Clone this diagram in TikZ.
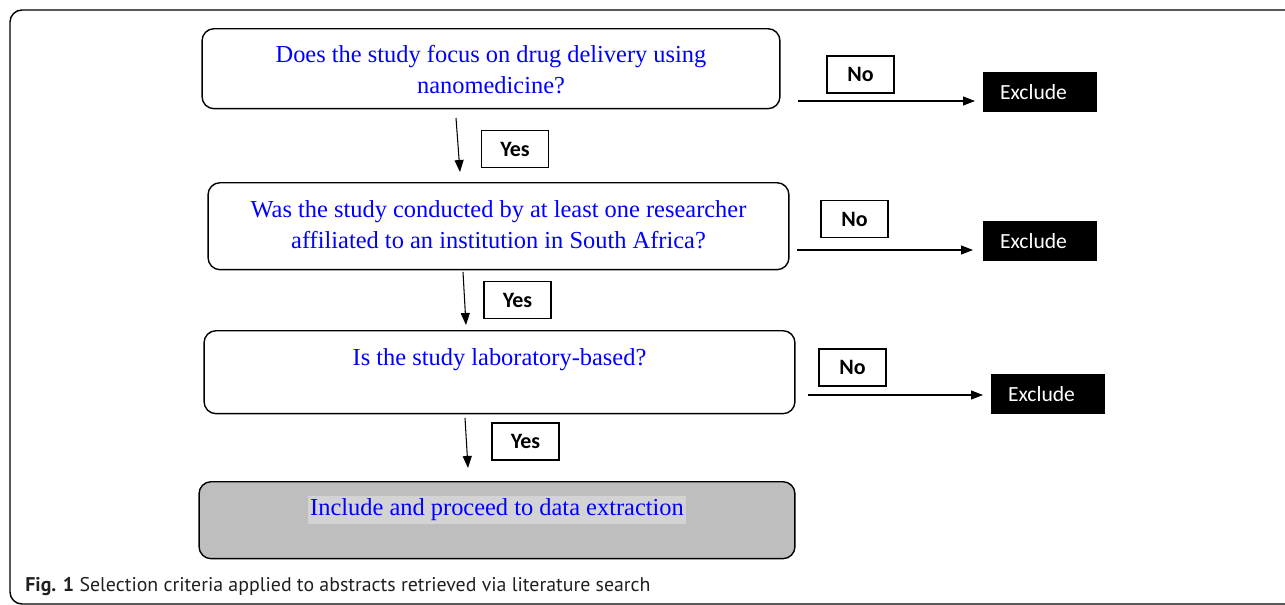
\documentclass[tikz,border=0pt]{standalone}
\usepackage{fontspec}
\setmainfont{Liberation Serif}
\newfontfamily\labelfont{Carlito}
\newfontfamily\captionfont{PT Sans}
\usepackage{xcolor}
\usetikzlibrary{arrows.meta, positioning}

\definecolor{qblue}{HTML}{0000FF}
\definecolor{inclgray}{HTML}{BEBEBE}
\definecolor{hlgray}{HTML}{D3D3D3}
\definecolor{capgray}{HTML}{231F20}

\begin{document}
\begin{tikzpicture}[
    x=0.02cm, y=-0.02cm,
    question/.style={rectangle, draw, rounded corners=0.24cm, line width=0.8pt, inner sep=0pt,
        align=center, text=qblue, font=\fontsize{13.9}{17.6}\selectfont},
    answer/.style={rectangle, draw, line width=0.6pt, inner sep=0pt, minimum width=1.34cm,
        minimum height=0.74cm, font=\labelfont\bfseries\fontsize{12.5}{14}\selectfont},
    excl/.style={rectangle, fill=black, text=white, inner xsep=0.34cm, inner ysep=0pt,
        text width=1.6cm, minimum height=0.8cm, align=left, font=\labelfont\fontsize{12.3}{14}\selectfont},
    arrow/.style={-{Triangle[length=2.4mm, width=1.8mm]}, line width=0.6pt}
]
\useasboundingbox (0,0) rectangle (1285,605);
% outer frame
\draw[line width=0.8pt, rounded corners=0.24cm] (10,10) rectangle (1320,604);

% questions
\node[question, minimum width=11.56cm, text height=1.30cm, text depth=0.30cm] (q1) at (491,28) [anchor=north]
    {Does the study focus on drug delivery using\\ nanomedicine?};
\node[question, minimum width=11.62cm, text height=1.32cm, text depth=0.42cm] (q2) at (498.5,182) [anchor=north]
    {Was the study conducted by at least one researcher\\ affiliated to an institution in South Africa?};
\node[question, minimum width=11.82cm, text height=0.70cm, text depth=0.96cm] (q3) at (499.5,330) [anchor=north]
    {Is the study laboratory-based?};
\node[question, fill=inclgray, minimum width=11.92cm, text height=0.68cm, text depth=0.86cm] (incl) at (497,481) [anchor=north]
    {\setlength{\fboxsep}{1.5pt}\colorbox{hlgray}{Include and proceed to data extraction}};

% answers
\node[answer] (no1) at (860.5,74.5) {No};
\node[answer] (no2) at (854.5,219) {No};
\node[answer] (no3) at (852.5,367.5) {No};
\node[answer] (yes1) at (515,149) {Yes};
\node[answer] (yes2) at (517.5,300) {Yes};
\node[answer] (yes3) at (525.5,441.5) {Yes};

% exclusions
\node[excl] (ex1) at (1040,92) {Exclude};
\node[excl] (ex2) at (1040,241) {Exclude};
\node[excl] (ex3) at (1048,394) {Exclude};

% arrow ends
\coordinate (n1s) at (798,101);
\coordinate (n1e) at (975,101);
\coordinate (n2s) at (797,250);
\coordinate (n2e) at (973,250);
\coordinate (n3s) at (808,395);
\coordinate (n3e) at (983,395);
\coordinate (y1s) at (456,118);
\coordinate (y1e) at (460,172);
\coordinate (y2s) at (463,272);
\coordinate (y2e) at (466,325);
\coordinate (y3s) at (465,418);
\coordinate (y3e) at (468,468);

\draw[arrow] (n1s) -- (n1e);
\draw[arrow] (n2s) -- (n2e);
\draw[arrow] (n3s) -- (n3e);
\draw[arrow] (y1s) -- (y1e);
\draw[arrow] (y2s) -- (y2e);
\draw[arrow] (y3s) -- (y3e);

% caption
\node[anchor=base west, inner sep=0pt, text=capgray, font=\captionfont\fontsize{11.3}{13}\selectfont] (cap) at (25,591)
    {\textbf{Fig. 1} Selection criteria applied to abstracts retrieved via literature search};
\end{tikzpicture}
\end{document}
